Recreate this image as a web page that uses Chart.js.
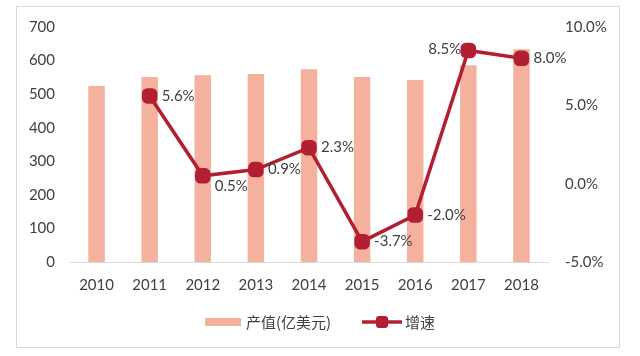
<!DOCTYPE html>
<html><head><meta charset="utf-8">
<script src="https://cdn.jsdelivr.net/npm/chart.js@4/dist/chart.umd.min.js"></script>
<style>html,body{margin:0;padding:0;background:#fff}#w{position:relative;width:640px;height:356px}</style>
</head><body><div id="w"><canvas id="c" width="640" height="356"></canvas></div>
<script>
const categories = ['2010','2011','2012','2013','2014','2015','2016','2017','2018'];
const outputValues = [524, 551, 556, 560, 574, 551, 542, 586, 634];
const growthValues = [null, 5.6, 0.5, 0.9, 2.3, -3.7, -2.0, 8.5, 8.0];
const growthLabels = ['', '5.6%', '0.5%', '0.9%', '2.3%', '-3.7%', '-2.0%', '8.5%', '8.0%'];
const labelPlace = ['', 'right', 'belowright', 'right', 'right', 'right', 'right', 'left', 'right'];
const seriesNames = ['产值(亿美元)', '增速'];

const barColor = '#F4B19E';
const lineColor = '#B31F32';
const textColor = '#404040';
const FONT = 'Lato, "Noto Sans CJK SC", sans-serif';

const frame = {
  id: 'frame',
  beforeDraw(chart) {
    const ctx = chart.ctx;
    ctx.save();
    ctx.fillStyle = '#fff';
    ctx.fillRect(0, 0, chart.width, chart.height);
    ctx.strokeStyle = '#D9D9D9';
    ctx.lineWidth = 1;
    ctx.strokeRect(16.5, 6.5, 603, 341);
    ctx.restore();
  },
  afterDatasetsDraw(chart) {
    const ctx = chart.ctx;
    const meta = chart.getDatasetMeta(0);
    ctx.save();
    ctx.font = '15px ' + FONT;
    ctx.fillStyle = textColor;
    ctx.textBaseline = 'middle';
    meta.data.forEach((pt, i) => {
      if (!growthLabels[i]) return;
      const p = labelPlace[i];
      let x = pt.x, y = pt.y;
      if (p === 'right') { ctx.textAlign = 'left'; x += 12; }
      else if (p === 'left') { ctx.textAlign = 'right'; x -= 7; y -= 1; }
      else if (p === 'belowright') { ctx.textAlign = 'left'; x += 12; y += 10; }
      ctx.fillText(growthLabels[i], x, y);
    });
    // legend
    const ly = 322;
    ctx.fillStyle = barColor;
    ctx.fillRect(205, ly - 4, 36, 8);
    ctx.fillStyle = textColor;
    ctx.font = '15px "Noto Sans CJK SC", sans-serif';
    ctx.textAlign = 'left';
    ctx.fillText(seriesNames[0], 246, ly);
    ctx.strokeStyle = lineColor;
    ctx.lineWidth = 3.5;
    ctx.beginPath(); ctx.moveTo(362, ly); ctx.lineTo(402, ly); ctx.stroke();
    ctx.fillStyle = lineColor;
    ctx.beginPath();
    if (ctx.roundRect) ctx.roundRect(376, ly - 6, 12, 12, 3); else ctx.rect(376, ly - 6, 12, 12);
    ctx.fill();
    ctx.fillStyle = textColor;
    ctx.fillText(seriesNames[1], 405, ly);
    ctx.restore();
  }
};

new Chart(document.getElementById('c'), {
  data: {
    labels: categories,
    datasets: [
      { type: 'line', label: seriesNames[1], data: growthValues, yAxisID: 'y2',
        borderColor: lineColor, backgroundColor: lineColor, borderWidth: 3.5,
        pointRadius: 7, pointHoverRadius: 7, pointStyle: 'rectRounded', pointBackgroundColor: lineColor,
        pointBorderColor: lineColor, tension: 0, spanGaps: false, order: 0 },
      { type: 'bar', label: seriesNames[0], data: outputValues, yAxisID: 'y',
        backgroundColor: barColor, categoryPercentage: 1, barPercentage: 0.31, order: 1 }
    ]
  },
  options: {
    responsive: false, animation: false,
    layout: { padding: { top: 27, left: 0, right: 0, bottom: 0 } },
    plugins: { legend: { display: false }, tooltip: { enabled: false } },
    scales: {
      x: {
        grid: { display: false, drawTicks: false },
        border: { color: '#D9D9D9', width: 1 },
        ticks: { color: textColor, font: { family: FONT, size: 15 }, padding: 14 },
        afterFit(s) { s.height = 94; }
      },
      y: {
        position: 'left', min: 0, max: 700,
        ticks: { stepSize: 100, color: textColor, font: { family: FONT, size: 15 }, padding: 15 },
        grid: { display: false, drawTicks: false },
        border: { display: false },
        afterFit(s) { s.width = 70; }
      },
      y2: {
        position: 'right', min: -5, max: 10,
        ticks: { stepSize: 5, color: textColor, font: { family: FONT, size: 15 }, padding: 17,
          callback: v => v.toFixed(1) + '%' },
        grid: { display: false, drawTicks: false },
        border: { display: false },
        afterFit(s) { s.width = 92; }
      }
    }
  },
  plugins: [frame]
});
</script></body></html>
